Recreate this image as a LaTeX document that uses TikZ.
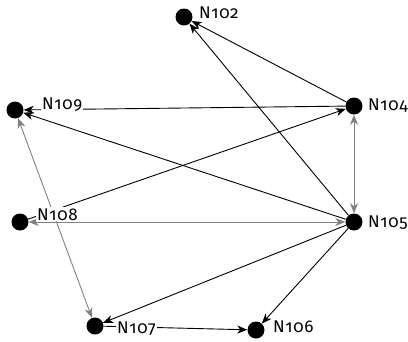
\documentclass[tikz,border=0pt]{standalone}
\usepackage{fontspec}
\setmainfont{Fira Sans}[Numbers=OldStyle,LetterSpace=4]
\usetikzlibrary{arrows.meta}
\begin{document}
\begin{tikzpicture}[x=1pt,y=-1pt,
  dot/.style={circle,fill=black,inner sep=0pt,minimum size=17pt},
  lbl/.style={fill=white,inner sep=1pt,anchor=base west,font=\fontsize{17}{17}\selectfont},
  arr/.style={line width=0.9pt,-{Stealth[length=10pt,width=8pt,inset=3pt]}},
  garr/.style={line width=0.9pt,draw=black!50,{Stealth[length=10pt,width=8pt,inset=3pt]}-{Stealth[length=10pt,width=8pt,inset=3pt]}}
]
\useasboundingbox (0,0) rectangle (408,341);
\node[dot] (n102) at (184,17) {};
\node[dot] (n104) at (354,106) {};
\node[dot] (n109) at (15,110) {};
\node[dot] (n108) at (20,222) {};
\node[dot] (n105) at (354,222) {};
\node[dot] (n107) at (95,326) {};
\node[dot] (n106) at (256,330) {};

\draw[arr] (n104) -- (n102);
\draw[arr] (n105) -- (n102);
\draw[arr] (n104) -- (n109);
\draw[arr] (n105) -- (n109);
\draw[arr] (n108) -- (n104);
\draw[arr] (n105) -- (n107);
\draw[arr] (n105) -- (n106);
\draw[arr] (n107) -- (n106);
\draw[garr] (n105) -- (n108);
\draw[garr] (n104) -- (n105);
\draw[garr] (n109) -- (n107);

\node[lbl] (l102) at (198,18) {N102};
\node[lbl] (l109) at (41,109) {N109};
\node[lbl] (l104) at (367,110) {N104};
\node[lbl] (l105) at (367,227) {N105};
\node[lbl] (l106) at (272,332) {N106};
\node[lbl] (l107) at (116,333) {N107};
\node[lbl] (l108) at (36,220) {N108};
\end{tikzpicture}
\end{document}
